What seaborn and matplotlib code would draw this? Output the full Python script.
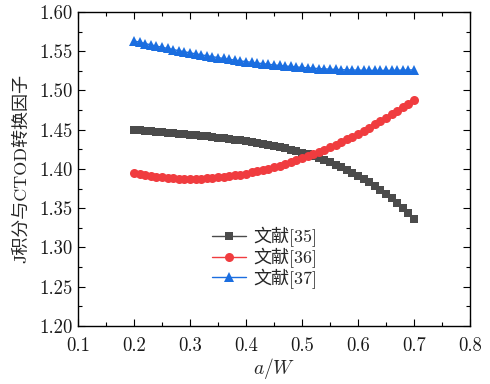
import matplotlib
matplotlib.use("Agg")
import matplotlib.pyplot as plt
import seaborn as sns
import pandas as pd
from matplotlib.ticker import MultipleLocator, FormatStrFormatter

a_W = [0.20, 0.21, 0.22, 0.23, 0.24, 0.25, 0.26, 0.27, 0.28, 0.29,
       0.30, 0.31, 0.32, 0.33, 0.34, 0.35, 0.36, 0.37, 0.38, 0.39,
       0.40, 0.41, 0.42, 0.43, 0.44, 0.45, 0.46, 0.47, 0.48, 0.49,
       0.50, 0.51, 0.52, 0.53, 0.54, 0.55, 0.56, 0.57, 0.58, 0.59,
       0.60, 0.61, 0.62, 0.63, 0.64, 0.65, 0.66, 0.67, 0.68, 0.69, 0.70]

ref35 = [1.4500, 1.4494, 1.4488, 1.4481, 1.4475, 1.4469, 1.4462, 1.4456, 1.4450, 1.4443,
         1.4436, 1.4430, 1.4423, 1.4415, 1.4408, 1.4400, 1.4392, 1.4383, 1.4374, 1.4365,
         1.4354, 1.4344, 1.4332, 1.4320, 1.4307, 1.4293, 1.4278, 1.4262, 1.4245, 1.4227,
         1.4207, 1.4186, 1.4163, 1.4139, 1.4113, 1.4085, 1.4056, 1.4024, 1.3990, 1.3954,
         1.3915, 1.3874, 1.3830, 1.3784, 1.3734, 1.3682, 1.3626, 1.3567, 1.3505, 1.3439, 1.3369]

ref36 = [1.3943, 1.3930, 1.3918, 1.3908, 1.3899, 1.3892, 1.3886, 1.3881, 1.3878, 1.3876,
         1.3875, 1.3876, 1.3878, 1.3881, 1.3886, 1.3892, 1.3899, 1.3908, 1.3917, 1.3929,
         1.3941, 1.3955, 1.3970, 1.3986, 1.4004, 1.4022, 1.4042, 1.4064, 1.4086, 1.4110,
         1.4135, 1.4161, 1.4188, 1.4217, 1.4247, 1.4278, 1.4310, 1.4343, 1.4378, 1.4413,
         1.4450, 1.4488, 1.4527, 1.4567, 1.4609, 1.4651, 1.4695, 1.4739, 1.4785, 1.4832, 1.4880]

ref37 = [1.5631, 1.5614, 1.5597, 1.5581, 1.5565, 1.5550, 1.5535, 1.5521, 1.5506, 1.5493,
         1.5479, 1.5466, 1.5454, 1.5441, 1.5430, 1.5418, 1.5407, 1.5396, 1.5386, 1.5376,
         1.5367, 1.5358, 1.5349, 1.5341, 1.5333, 1.5325, 1.5318, 1.5311, 1.5305, 1.5299,
         1.5293, 1.5288, 1.5283, 1.5278, 1.5274, 1.5271, 1.5267, 1.5264, 1.5262, 1.5260,
         1.5258, 1.5257, 1.5256, 1.5255, 1.5255, 1.5255, 1.5256, 1.5257, 1.5258, 1.5260, 1.5262]

labels = ["文献[35]", "文献[36]", "文献[37]"]
colors = ["#4b4b4b", "#f03c3f", "#1b6ee0"]
markers = ["s", "o", "^"]
msizes = [6.0, 6.5, 7.0]

sns.set_style("ticks")
plt.rcParams["font.family"] = ["cmr10", "Noto Sans CJK SC"]
plt.rcParams["mathtext.fontset"] = "cm"
plt.rcParams["axes.formatter.use_mathtext"] = True
plt.rcParams["axes.unicode_minus"] = False

fig = plt.figure(figsize=(4.9, 3.84), dpi=100)
ax = fig.add_axes([0.159, 0.151, 0.800, 0.818])

for ys, lab, c, m, ms in zip([ref35, ref36, ref37], labels, colors, markers, msizes):
    df = pd.DataFrame({"x": a_W, "y": ys})
    sns.lineplot(data=df, x="x", y="y", ax=ax, color=c, marker=m, markersize=ms,
                 markeredgewidth=0, linewidth=1.0, label=lab)

ax.set_xlim(0.1, 0.8)
ax.set_ylim(1.20, 1.60)
ax.xaxis.set_major_locator(MultipleLocator(0.1))
ax.xaxis.set_minor_locator(MultipleLocator(0.05))
ax.yaxis.set_major_locator(MultipleLocator(0.05))
ax.yaxis.set_minor_locator(MultipleLocator(0.025))
ax.xaxis.set_major_formatter(FormatStrFormatter("%.1f"))
ax.yaxis.set_major_formatter(FormatStrFormatter("%.2f"))
ax.tick_params(which="both", direction="in", top=True, right=True, width=0.8,
               colors="black", labelcolor="#1a1a1a")
ax.tick_params(which="major", length=5, labelsize=13.5)
ax.tick_params(axis="x", which="major", pad=8)
ax.tick_params(axis="y", which="major", pad=4)
ax.tick_params(which="minor", length=3)
for s in ax.spines.values():
    s.set_linewidth(1.0)
    s.set_color("black")

ax.set_xlabel("$a/W$", fontsize=14, labelpad=1)
ax.set_ylabel("J积分与CTOD转换因子", fontsize=13, labelpad=7)

leg = ax.legend(loc="upper left", bbox_to_anchor=(0.341, 0.315), frameon=False,
                fontsize=13, handlelength=1.9, handletextpad=0.42,
                labelspacing=0.03, borderpad=0, borderaxespad=0)

fig.savefig("out.png", dpi=100)
